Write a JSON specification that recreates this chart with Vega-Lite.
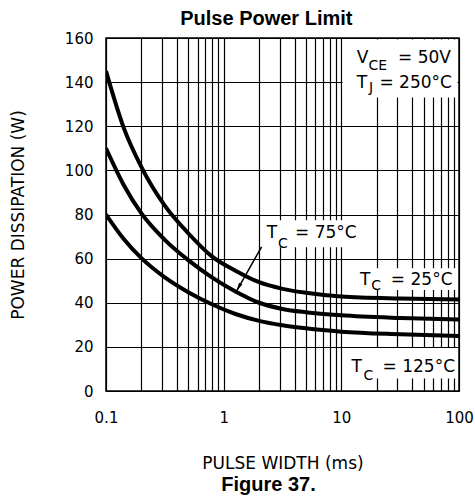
{
  "$schema": "https://vega.github.io/schema/vega-lite/v6.json",
  "padding": {"left": 8, "top": 9, "right": 2, "bottom": 2},
  "background": "white",
  "title": {"text": "Pulse Power Limit", "font": "Liberation Sans", "fontSize": 20, "fontWeight": "bold", "color": "black", "anchor": "middle", "dx": 25, "offset": 1},
  "datasets": {
    "curves": [
      {"t": "25", "x": 0.1, "y": 145}, {"t": "25", "x": 0.141, "y": 119.5}, {"t": "25", "x": 0.2, "y": 101.5}, {"t": "25", "x": 0.316, "y": 84}, {"t": "25", "x": 0.5, "y": 71.5}, {"t": "25", "x": 0.794, "y": 61}, {"t": "25", "x": 1.26, "y": 54.5}, {"t": "25", "x": 2, "y": 49.3}, {"t": "25", "x": 3.16, "y": 46.3}, {"t": "25", "x": 5, "y": 44.5}, {"t": "25", "x": 10, "y": 42.8}, {"t": "25", "x": 31.6, "y": 41.9}, {"t": "25", "x": 100, "y": 41.5},
      {"t": "75", "x": 0.1, "y": 110}, {"t": "75", "x": 0.141, "y": 93.5}, {"t": "75", "x": 0.2, "y": 80.5}, {"t": "75", "x": 0.316, "y": 68.5}, {"t": "75", "x": 0.5, "y": 59.3}, {"t": "75", "x": 0.794, "y": 51.5}, {"t": "75", "x": 1.26, "y": 45.1}, {"t": "75", "x": 2, "y": 40}, {"t": "75", "x": 3.16, "y": 37.2}, {"t": "75", "x": 5, "y": 35.7}, {"t": "75", "x": 10, "y": 34.3}, {"t": "75", "x": 31.6, "y": 33.1}, {"t": "75", "x": 100, "y": 32.4},
      {"t": "125", "x": 0.1, "y": 80}, {"t": "125", "x": 0.141, "y": 69}, {"t": "125", "x": 0.2, "y": 60.2}, {"t": "125", "x": 0.316, "y": 51.5}, {"t": "125", "x": 0.5, "y": 44.8}, {"t": "125", "x": 0.794, "y": 39.3}, {"t": "125", "x": 1.26, "y": 34.9}, {"t": "125", "x": 2, "y": 31.8}, {"t": "125", "x": 3.16, "y": 29.8}, {"t": "125", "x": 5, "y": 28.4}, {"t": "125", "x": 10, "y": 26.9}, {"t": "125", "x": 31.6, "y": 25.7}, {"t": "125", "x": 100, "y": 24.9}
    ],
    "boxes": [
      {"x": 10.25, "x2": 97, "y": 133, "y2": 159.3},
      {"x": 2.12, "x2": 13.9, "y": 65.2, "y2": 77.4},
      {"x": 12.5, "x2": 97, "y": 45.8, "y2": 55.6},
      {"x": 11, "x2": 97, "y": 5.7, "y2": 19.5}
    ],
    "labels": [
      {"role": "main", "text": "V", "x": 13.5, "y": 148.5},
      {"role": "sub", "text": "CE", "x": 17.0, "y": 145.5},
      {"role": "rest", "text": "= 50V", "x": 85.5, "y": 148.5},
      {"role": "main", "text": "T", "x": 13.5, "y": 137.2},
      {"role": "sub", "text": "J", "x": 17.2, "y": 135.4},
      {"role": "rest", "text": "= 250°C", "x": 87, "y": 137.2},
      {"role": "main", "text": "T", "x": 2.32, "y": 69.3},
      {"role": "sub", "text": "C", "x": 2.9, "y": 64.8},
      {"role": "rest", "text": "= 75°C", "x": 13.5, "y": 69.3},
      {"role": "main", "text": "T", "x": 14.4, "y": 48.0},
      {"role": "sub", "text": "C", "x": 18.0, "y": 45.7},
      {"role": "rest", "text": "= 25°C", "x": 88.1, "y": 48.0},
      {"role": "main", "text": "T", "x": 12.2, "y": 8.7},
      {"role": "sub", "text": "C", "x": 15.4, "y": 5.0},
      {"role": "rest", "text": "= 125°C", "x": 92.5, "y": 8.7}
    ],
    "arrow": [{"x": 2.1, "y": 65.3, "x2": 1.29, "y2": 45.4}],
    "arrowhead": [{"x": 1.34, "y": 47.0}]
  },
  "config": {
    "view": {"stroke": "black", "strokeWidth": 1.5},
    "axis": {"gridColor": "black", "gridOpacity": 1, "gridWidth": 1.2, "ticks": false, "domain": false, "labelColor": "black", "titleColor": "black", "labelFont": "DejaVu Sans", "titleFont": "DejaVu Sans", "titleFontWeight": "normal", "labelFontSize": 15, "titleFontSize": 17, "labelOverlap": false, "labelBound": false, "labelFlush": false}
  },
  "vconcat": [
    {
      "width": 353,
      "height": 353,
      "title": {"text": "Figure 37.", "orient": "bottom", "anchor": "middle", "frame": "group", "font": "Liberation Sans", "fontSize": 20, "fontWeight": "bold", "color": "black", "dx": -14, "offset": 4},
      "layer": [
        {
          "data": {"name": "boxes"},
          "mark": {"type": "rect", "fill": "white", "stroke": null},
          "encoding": {
            "x": {"field": "x", "type": "quantitative", "scale": {"type": "log", "domain": [0.1, 100], "nice": false},
              "axis": {"values": [0.1,0.2,0.3,0.4,0.5,0.6,0.7,0.8,0.9,1,2,3,4,5,6,7,8,9,10,20,30,40,50,60,70,80,90,100], "grid": true, "labelExpr": "indexof([0.1,1,10,100], datum.value) >= 0 ? toString(datum.value) : ''", "labelPadding": 19, "title": "PULSE WIDTH (ms)", "titlePadding": 30}},
            "x2": {"field": "x2"},
            "y": {"field": "y", "type": "quantitative", "scale": {"domain": [0, 160], "nice": false, "zero": false},
              "axis": {"values": [0,20,40,60,80,100,120,140,160], "grid": true, "labelPadding": 13, "title": "POWER DISSIPATION (W)", "titlePadding": 37}},
            "y2": {"field": "y2"}
          }
        },
        {
          "data": {"name": "curves"},
          "mark": {"type": "line", "color": "black", "strokeWidth": 4, "interpolate": "monotone", "clip": true},
          "encoding": {
            "x": {"field": "x", "type": "quantitative", "scale": {"type": "log", "domain": [0.1, 100], "nice": false}},
            "y": {"field": "y", "type": "quantitative", "scale": {"domain": [0, 160], "nice": false, "zero": false}},
            "detail": {"field": "t"}
          }
        },
        {
          "data": {"name": "arrow"},
          "mark": {"type": "rule", "color": "black", "strokeWidth": 1.5},
          "encoding": {
            "x": {"field": "x", "type": "quantitative"},
            "y": {"field": "y", "type": "quantitative"},
            "x2": {"field": "x2"},
            "y2": {"field": "y2"}
          }
        },
        {
          "data": {"name": "arrowhead"},
          "mark": {"type": "point", "shape": "M0,-1L0.45,1L-0.45,1Z", "filled": true, "color": "black", "size": 70, "angle": 210, "opacity": 1},
          "encoding": {
            "x": {"field": "x", "type": "quantitative"},
            "y": {"field": "y", "type": "quantitative"}
          }
        },
        {
          "data": {"name": "labels"},
          "transform": [{"filter": "datum.role == 'main'"}],
          "mark": {"type": "text", "font": "DejaVu Sans", "fontSize": 17, "align": "left", "baseline": "alphabetic", "color": "black"},
          "encoding": {
            "x": {"field": "x", "type": "quantitative"},
            "y": {"field": "y", "type": "quantitative"},
            "text": {"field": "text"}
          }
        },
        {
          "data": {"name": "labels"},
          "transform": [{"filter": "datum.role == 'sub'"}],
          "mark": {"type": "text", "font": "DejaVu Sans", "fontSize": 14, "align": "left", "baseline": "alphabetic", "color": "black"},
          "encoding": {
            "x": {"field": "x", "type": "quantitative"},
            "y": {"field": "y", "type": "quantitative"},
            "text": {"field": "text"}
          }
        },
        {
          "data": {"name": "labels"},
          "transform": [{"filter": "datum.role == 'rest'"}],
          "mark": {"type": "text", "font": "DejaVu Sans", "fontSize": 17, "align": "right", "baseline": "alphabetic", "color": "black"},
          "encoding": {
            "x": {"field": "x", "type": "quantitative"},
            "y": {"field": "y", "type": "quantitative"},
            "text": {"field": "text"}
          }
        }
      ]
    }
  ]
}
